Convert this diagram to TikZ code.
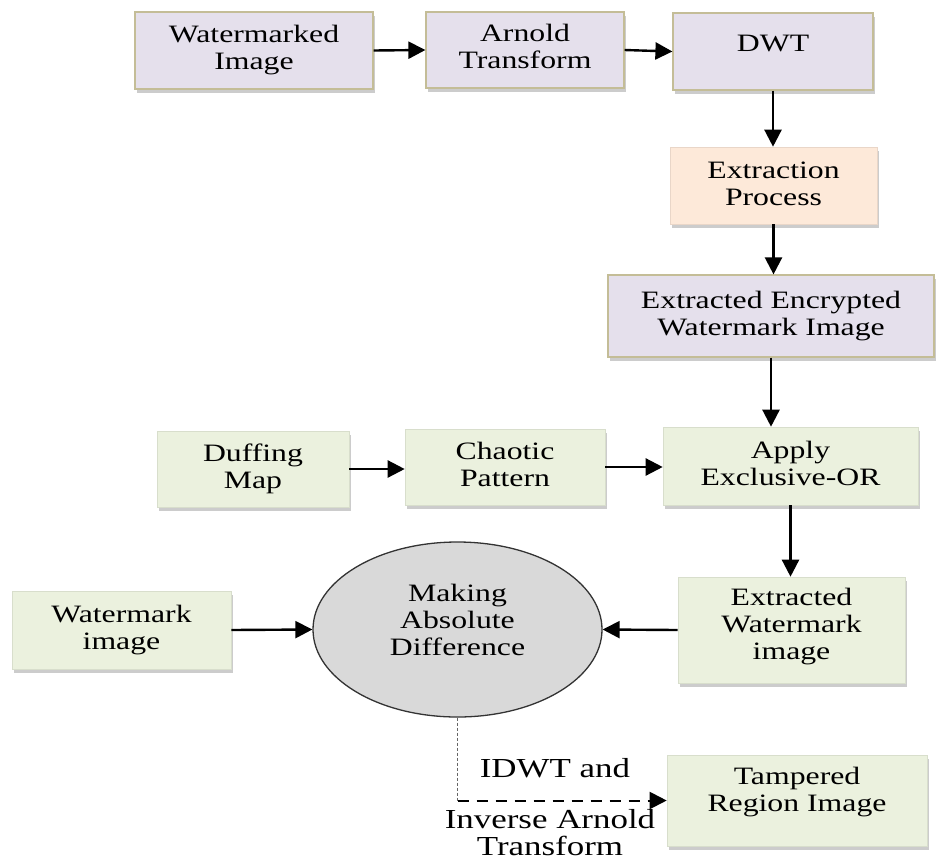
\documentclass[tikz,border=0pt]{standalone}
\usepackage{fontspec}
\setmainfont{Liberation Serif}[FakeStretch=1.27]
\definecolor{wmlav}{HTML}{E5E0EC}
\definecolor{wmpeach}{HTML}{FDE9D9}
\definecolor{wmgreen}{HTML}{EBF1DE}
\definecolor{wmtan}{HTML}{C4BD97}
\definecolor{wmgrey}{HTML}{D9D9D9}
\usetikzlibrary{arrows.meta,positioning,shapes.geometric,shadows,calc}

\begin{document}
\begin{tikzpicture}[x=10pt, y=10pt,
    blk/.style={rectangle, minimum height=77pt, align=center, inner sep=2pt,
                font=\fontsize{25}{27}\selectfont,
                drop shadow={shadow xshift=1.5pt, shadow yshift=-3.5pt,
                             fill=black!40, opacity=0.5}},
    lavbox/.style={blk, draw=wmtan, line width=1.2pt, fill=wmlav},
    peachbox/.style={blk, draw=wmpeach!92!black, line width=0.6pt, fill=wmpeach},
    greenbox/.style={blk, draw=wmgreen!92!black, line width=0.6pt, fill=wmgreen},
    arr/.style={-{Triangle[length=17pt,width=17pt]}, line width=2.4pt},
    lbl/.style={align=center, font=\fontsize{27.5}{27}\selectfont}
  ]
    \useasboundingbox (0,0) rectangle (93.6,-86.2);

    % Row 1: reading the marked picture
    \node[lavbox, minimum width=238pt] (wmk) at (25.4,-5.05) {Watermarked\\Image\\[-20pt]};
    \node[lavbox, minimum width=198pt, minimum height=76pt] (arn) at (52.5,-5.0) {Arnold\\Transform\\[-20pt]};
    \node[lavbox, minimum width=200pt] (dwt) at (77.3,-5.15) {DWT\\[-11pt]};

    % Extraction column
    \node[peachbox, minimum width=207pt] (ext) at (77.35,-18.55) {Extraction\\Process\\[-24pt]};
    \node[lavbox, minimum width=326pt, minimum height=82pt] (enc) at (77.1,-31.6) {Extracted Encrypted\\Watermark Image\\[-22pt]};

    % Row 2: chaotic key
    \node[greenbox, minimum width=192pt, minimum height=76pt] (duf) at (25.3,-46.9) {Duffing\\Map\\[-22pt]};
    \node[greenbox, minimum width=200pt, minimum height=76pt] (cha) at (50.5,-46.7) {Chaotic\\Pattern\\[-22pt]};
    \node[greenbox, minimum width=255pt, minimum height=78pt] (xor) at (79.05,-46.6) {Apply\\Exclusive-OR\\[-22pt]};

    % Row 3: comparison
    \node[greenbox, minimum width=227pt, minimum height=106pt] (exw) at (79.15,-63.0) {Extracted\\Watermark\\image\\[-15pt]};
    \node[greenbox, minimum width=219pt, minimum height=78pt] (wim) at (12.15,-63.0) {Watermark\\image\\[-22pt]};
    \node[ellipse, draw=black!80, line width=1.3pt, fill=wmgrey,
          minimum width=289pt, minimum height=175pt, inner sep=0pt,
          align=center, font=\fontsize{25}{27}\selectfont] (diff) at (45.75,-62.95)
          {Making\\Absolute\\Difference\\[-7pt]};

    % Result
    \node[greenbox, minimum width=260pt, minimum height=91pt] (tam) at (79.7,-80.05) {Tampered\\Region Image\\[-5pt]};
    \coordinate (turn) at (diff.south |- tam.west);
    \node[lbl] (lbl1) at (55.5,-76.8) {IDWT and};
    \node[lbl] (lbl2) at (55.0,-83.3) {Inverse Arnold\\Transform};

    % Connectors
    \draw[arr] (wmk.east) -- (arn.west);
    \draw[arr] (arn.east) -- (dwt.west);
    \draw[arr] (dwt.south) -- (dwt.south |- ext.north);
    \draw[arr] (ext.south) -- (ext.south |- enc.north);
    \draw[arr] (enc.south) -- (enc.south |- xor.north);
    \draw[arr] (duf.east) -- (duf.east -| cha.west);
    \draw[arr] (cha.east) -- (cha.east -| xor.west);
    \draw[arr] (xor.south) -- (xor.south |- exw.north);
    \draw[arr] (exw.west) -- (diff.east);
    \draw[arr] (wim.east) -- (diff.west);
    \draw[black!60, line width=0.9pt, dash pattern=on 3pt off 2pt] (diff.south) -- (turn);
    \draw[arr, line width=2pt, dash pattern=on 11pt off 8pt] (turn) -- (tam.west);
\end{tikzpicture}
\end{document}
